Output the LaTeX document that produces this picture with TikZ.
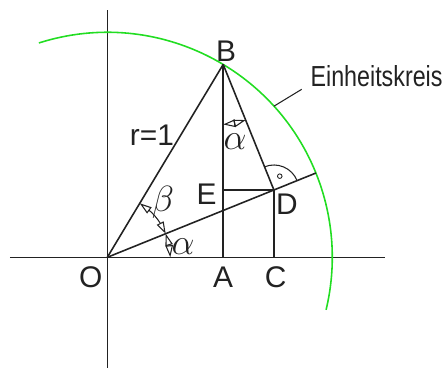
\documentclass[tikz,border=0pt]{standalone}
\usepackage{fontspec}
\setmainfont{Liberation Sans}
\usepackage{graphicx}
\usepackage{tikz}
\usetikzlibrary{calc,positioning,arrows.meta,bending}
\definecolor{circGreen}{HTML}{22DD22}
\definecolor{lineDark}{HTML}{222222}

\begin{document}
\begin{tikzpicture}[
    line/.style={draw=lineDark, line width=0.9pt},
    angmark/.style={line, line width=0.6pt, {Triangle[open, flex, length=2.4mm, width=1.5mm]}-{Triangle[open, flex, length=2.4mm, width=1.5mm]}},
    lbl/.style={font=\fontsize{17}{17}\selectfont, inner sep=0pt, text=lineDark},
    glbl/.style={font=\fontsize{20}{20}\selectfont, inner sep=0pt, text=lineDark},
]
    \useasboundingbox (-2.146,-2.234) rectangle (6.774,5.146);
    \def\R{4.5}

    \coordinate (O) at (0,0);
    \coordinate (B) at (59:\R);
    \coordinate (D) at (22:{\R*cos(37)});
    \coordinate (A) at (B |- O);
    \coordinate (C) at (D |- O);
    \coordinate (E) at (A |- D);
    \coordinate (Dend) at (22:\R);
    \coordinate (xl) at (-1.946,0);
    \coordinate (xr) at (5.554,0);
    \coordinate (yt) at (0,4.946);
    \coordinate (yb) at (0,-2.214);
    \coordinate (kp) at (42.2:\R);
    \coordinate (lead) at (3.888,3.36);

    \draw[line] (xl) -- (xr);
    \draw[line] (yt) -- (yb);
    \draw[circGreen, line width=0.9pt] (107.7:\R) arc[start angle=107.7, end angle=-13.5, radius=\R];

    \draw[line] (O) -- (B);
    \draw[line] (B) -- (A);
    \draw[line] (B) -- (D);
    \draw[line] (O) -- (Dend);
    \draw[line] (E) -- (D);
    \draw[line] (D) -- (C);

    \draw[angmark] (59:1.26) arc[start angle=59, end angle=22, radius=1.26];
    \draw[angmark] (22:1.26) arc[start angle=22, end angle=0, radius=1.26];
    \draw[angmark] ($(B)+(-90:1.2)$) arc[start angle=-90, end angle=-68, radius=1.2];
    \draw[line, line width=0.6pt] ($(D)+(112:0.5)$) arc[start angle=112, end angle=22, radius=0.5];
    \draw[lineDark, line width=0.5pt] ($(D)+(67:0.3)$) circle[radius=1.3pt];

    \node[lbl] (lO) at (-0.332,-0.394) {O};
    \node[lbl] (lA) at (2.314,-0.394) {A};
    \node[lbl] (lC) at (3.368,-0.394) {C};
    \node[lbl] (lB) at (2.374,4.126) {B};
    \node[lbl] (lE) at (1.988,1.266) {E};
    \node[lbl] (lD) at (3.594,1.066) {D};
    \node[lbl] (lr) at (0.894,2.446) {r=1};
    \node[glbl] (lbeta) at (1.114,1.106) {$\beta$};
    \node[glbl] (lalphaO) at (1.514,0.206) {$\alpha$};
    \node[glbl] (lalphaB) at (2.554,2.306) {$\alpha$};
    \node[lbl, anchor=south west] (kreis) at ($(lead)+(0.17,0.05)$) {\resizebox{2.64cm}{0.42cm}{Einheitskreis}};

    \draw[line, line width=0.6pt] (kp) -- (lead);
\end{tikzpicture}
\end{document}
